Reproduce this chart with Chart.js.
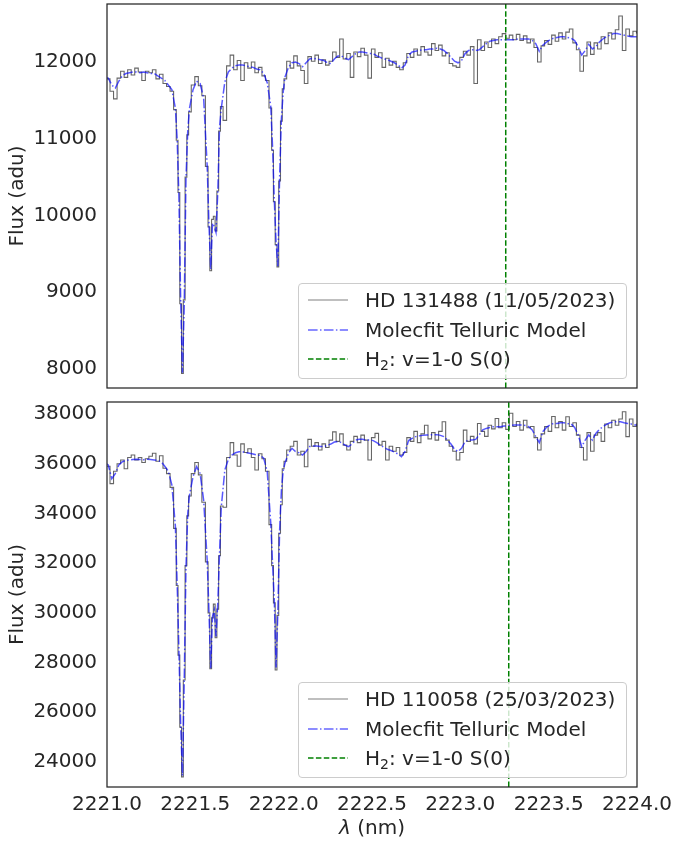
<!DOCTYPE html>
<html>
<head>
<meta charset="utf-8">
<script src="https://cdn.jsdelivr.net/npm/chart.js@4.4.1/dist/chart.umd.min.js"></script>
<style>
    body { margin: 0; background: #fff; }
    #wrap { position: relative; width: 675px; height: 844px; font-family: 'DejaVu Sans', sans-serif; color: #262626; }
    .panel { position: absolute; left: 0; width: 675px; }
    .legend { position: absolute; left: 298px; width: 329px; height: 96px; box-sizing: border-box;
              border: 1px solid #cccccc; border-radius: 4px; background: rgba(255,255,255,0.8); font-size: 20px; }
    .legend .row { position: absolute; left: 0; height: 30px; display: flex; align-items: center; white-space: nowrap; }
    .legend svg { margin-left: 9px; margin-right: 17px; }
    .legend .sub { font-size: 14px; position: relative; top: 6px; }
</style>
</head>
<body>
<div id="wrap">
    <div class="panel" style="top:0; height:395px;"><canvas id="topChart"></canvas></div>
    <div class="panel" style="top:395px; height:449px;"><canvas id="bottomChart"></canvas></div>

    <div class="legend" style="top:283px;">
        <div class="row" style="top:1px;"><svg width="40" height="4"><line x1="0" y1="2" x2="40" y2="2" stroke="rgba(0,0,0,0.5)" stroke-width="1.2"/></svg>HD 131488 (11/05/2023)</div>
        <div class="row" style="top:31px;"><svg width="40" height="4"><line x1="0" y1="2" x2="40" y2="2" stroke="rgba(0,0,255,0.6)" stroke-width="1.5" stroke-dasharray="9.6 2.4 1.5 2.4"/></svg>Molecfit Telluric Model</div>
        <div class="row" style="top:60px;"><svg width="40" height="4"><line x1="0" y1="2" x2="40" y2="2" stroke="#008000" stroke-width="1.5" stroke-dasharray="5.5 2.4"/></svg>H<span class="sub">2</span>: v=1-0 S(0)</div>
    </div>
    <div class="legend" style="top:682px;">
        <div class="row" style="top:1px;"><svg width="40" height="4"><line x1="0" y1="2" x2="40" y2="2" stroke="rgba(0,0,0,0.5)" stroke-width="1.2"/></svg>HD 110058 (25/03/2023)</div>
        <div class="row" style="top:31px;"><svg width="40" height="4"><line x1="0" y1="2" x2="40" y2="2" stroke="rgba(0,0,255,0.6)" stroke-width="1.5" stroke-dasharray="9.6 2.4 1.5 2.4"/></svg>Molecfit Telluric Model</div>
        <div class="row" style="top:60px;"><svg width="40" height="4"><line x1="0" y1="2" x2="40" y2="2" stroke="#008000" stroke-width="1.5" stroke-dasharray="5.5 2.4"/></svg>H<span class="sub">2</span>: v=1-0 S(0)</div>
    </div>
</div>

<script>
// wavelength grid (nm), shared by both spectra; finer inside the three telluric lines
const WAVE = [
    2220.987, 2221.007, 2221.027, 2221.047, 2221.067, 2221.087, 2221.107, 2221.127, 2221.147, 2221.167,
    2221.187, 2221.207, 2221.227, 2221.247, 2221.267, 2221.287, 2221.307, 2221.327, 2221.347, 2221.367,
    2221.387, 2221.397, 2221.407, 2221.417, 2221.427, 2221.437, 2221.447, 2221.457, 2221.467, 2221.487, 2221.507, 2221.527, 2221.547, 2221.567, 2221.577,
    2221.587, 2221.597, 2221.607, 2221.617, 2221.627, 2221.637, 2221.647, 2221.667, 2221.687, 2221.707, 2221.727, 2221.747, 2221.767,
    2221.787, 2221.807, 2221.827, 2221.847, 2221.867, 2221.887, 2221.907, 2221.927, 2221.937, 2221.947, 2221.957, 2221.967, 2221.977,
    2221.987, 2221.997, 2222.007, 2222.027, 2222.047, 2222.067, 2222.087, 2222.107, 2222.127, 2222.147, 2222.167,
    2222.187, 2222.207, 2222.227, 2222.247, 2222.267, 2222.287, 2222.307, 2222.327, 2222.347, 2222.367,
    2222.387, 2222.407, 2222.427, 2222.447, 2222.467, 2222.487, 2222.507, 2222.527, 2222.547, 2222.567,
    2222.587, 2222.607, 2222.627, 2222.647, 2222.667, 2222.687, 2222.707, 2222.727, 2222.747, 2222.767,
    2222.787, 2222.807, 2222.827, 2222.847, 2222.867, 2222.887, 2222.907, 2222.927, 2222.947, 2222.967,
    2222.987, 2223.007, 2223.027, 2223.047, 2223.067, 2223.087, 2223.107, 2223.127, 2223.147, 2223.167,
    2223.187, 2223.207, 2223.227, 2223.247, 2223.267, 2223.287, 2223.307, 2223.327, 2223.347, 2223.367,
    2223.387, 2223.407, 2223.427, 2223.447, 2223.467, 2223.487, 2223.507, 2223.527, 2223.547, 2223.567,
    2223.587, 2223.607, 2223.627, 2223.647, 2223.667, 2223.687, 2223.707, 2223.727, 2223.747, 2223.767,
    2223.787, 2223.807, 2223.827, 2223.847, 2223.867, 2223.887, 2223.907, 2223.927, 2223.947, 2223.967,
    2223.987, 2224.007
];

// HD 131488 (top panel)
const TOP_FLUX = [
    11820, 11780, 11620, 11520, 11790, 11880, 11800, 11900, 11830, 11920,
    11870, 11760, 11880, 11860, 11900, 11780, 11840, 11720, 11680, 11620,
    11380, 10980, 10300, 8850, 7940, 8900, 10500, 11050, 11350, 11700, 11810, 11690, 11560, 10640, 9850,
    9280, 9950, 9990, 9800, 10320, 11100, 11420, 11240, 11950, 12090, 11900, 12020, 11760,
    11990, 11920, 12000, 11860, 11930, 11820, 11760, 11400, 10850, 10180, 9620, 9330, 10450,
    11230, 11650, 11780, 12010, 11920, 12080, 11950, 11890, 11720, 12070, 12010,
    12090, 11980, 12030, 11960, 12010, 12130, 12060, 12300, 12040, 12110,
    11800, 12130, 12070, 12180, 12090, 11790, 12170, 12060, 12120, 11930,
    12050, 11960, 12010, 11930, 11900, 11990, 12110, 12060, 12170, 12090,
    12200, 12130, 12090, 12240, 12150, 12220, 12080, 12120, 11980, 11950,
    11930, 12060, 12140, 12090, 12200, 11720, 12290, 12150, 12260, 12190,
    12300, 12240, 12330, 12370, 12310, 12350, 12290, 12360, 12280, 12340,
    12250, 12300, 12190, 12000, 12210, 12280, 12230, 12350, 12270, 12380,
    12300, 12390, 12430, 12250, 12160, 11880, 12080, 12260, 12100, 12250,
    12170, 12330, 12240, 12380, 12300, 12420, 12600, 12150, 12430, 12340,
    12400, 12380
];
const TOP_MODEL = [
    11800, 11790, 11700, 11660, 11750, 11820, 11850, 11860, 11870, 11870,
    11860, 11870, 11860, 11850, 11850, 11820, 11790, 11760, 11700, 11640,
    11400, 11000, 10250, 8900, 7950, 8800, 10480, 11100, 11400, 11640, 11750, 11720, 11530, 10650, 9900,
    9300, 9900, 9860, 9780, 10300, 11150, 11400, 11740, 11870, 11920, 11950, 11960, 11960,
    11950, 11940, 11930, 11910, 11900, 11850, 11730, 11420, 10900, 10200, 9650, 9340, 10500,
    11250, 11600, 11800, 11930, 11990, 12000, 11980, 11940, 11990, 12040, 12050,
    12040, 12030, 12020, 11990, 11980, 12040, 12080, 12080, 12050, 12030,
    12070, 12110, 12130, 12130, 12120, 12110, 12110, 12080, 12060, 12040,
    12030, 12010, 11990, 11960, 11920, 11960, 12090, 12130, 12140, 12150,
    12160, 12160, 12170, 12170, 12180, 12170, 12150, 12110, 12060, 12010,
    11990, 12020, 12110, 12150, 12160, 12150, 12160, 12200, 12240, 12270,
    12280, 12290, 12290, 12290, 12290, 12290, 12290, 12300, 12300, 12300,
    12300, 12280, 12240, 12140, 12220, 12260, 12290, 12310, 12320, 12330,
    12330, 12320, 12310, 12280, 12200, 12090, 12150, 12230, 12170, 12200,
    12260, 12300, 12330, 12350, 12370, 12370, 12360, 12350, 12340, 12330,
    12330, 12330
];

// HD 110058 (bottom panel)
const BOT_FLUX = [
    36100, 35900, 35200, 35700, 36000, 36150, 35800, 36250, 36350, 36150,
    36250, 36050, 36200, 36300, 36420, 36100, 36320, 35820, 35600, 35050,
    33400, 31100, 28300, 25400, 23400, 27300, 31900, 33900, 34700, 35600, 36050, 35550, 34450, 32050, 30000,
    27750, 29800, 30350, 29000, 30150, 32300, 34300, 34250, 36250, 36850, 36350, 35900, 36800,
    36450, 36600, 36250, 35750, 36400, 36200, 35700, 33550, 31900, 30400, 27700, 29900, 33200,
    34350, 35800, 36100, 36550, 36700, 36900, 36350, 36500, 35880, 36980, 36700,
    36850, 36550, 36800, 36650, 36950, 37280, 36900, 37200, 36750, 36550,
    36900, 37100, 36850, 37150, 36950, 36150, 37050, 37220, 36750, 36900,
    36150, 36700, 36500, 36650, 36350, 36450, 37050, 36900, 37300, 36850,
    37200, 37550, 37000, 37250, 36950, 37300, 37690, 36950, 36700, 36500,
    36150, 36450, 37350, 36900, 37100, 36800, 37620, 37300, 37100, 37550,
    37400, 37820, 37450, 37650, 37380, 38030, 37500, 37700, 37350, 37750,
    37450, 37500, 37050, 36550, 37200, 37500, 37300, 37900, 37450, 37700,
    37350, 37890, 37500, 37650, 37150, 36650, 36150, 37250, 36500, 37150,
    37250, 36900, 37600, 37450, 37750, 37550, 37800, 38090, 37090, 37800,
    37500, 37600
];
const BOT_MODEL = [
    36050, 35950, 35400, 35600, 35950, 36080, 36130, 36150, 36170, 36180,
    36170, 36160, 36180, 36170, 36150, 36130, 36080, 35900, 35700, 35150,
    33500, 31200, 28500, 25500, 23450, 27200, 31800, 34000, 34740, 35480, 35880, 35610, 34540, 32130, 30100,
    27770, 29850, 30120, 29050, 30380, 32400, 34270, 35750, 36180, 36350, 36440, 36480, 36480,
    36440, 36420, 36390, 36350, 36340, 36220, 35680, 33600, 32000, 30500, 27800, 30000, 33300,
    34900, 35700, 36020, 36420, 36620, 36490, 36440, 36350, 36490, 36690, 36710,
    36710, 36690, 36690, 36740, 36790, 36870, 36890, 36850, 36750, 36690,
    36790, 36950, 36980, 36980, 36950, 36950, 36930, 36850, 36750, 36660,
    36580, 36530, 36470, 36390, 36280, 36490, 36930, 37020, 37090, 37120,
    37140, 37160, 37160, 37170, 37170, 37140, 37090, 36950, 36790, 36580,
    36490, 36620, 36890, 36950, 36950, 36980, 37160, 37360, 37420, 37460,
    37490, 37490, 37490, 37520, 37520, 37540, 37560, 37560, 37560, 37540,
    37490, 37360, 37090, 36850, 37290, 37460, 37560, 37620, 37620, 37650,
    37650, 37620, 37600, 37460, 37160, 36690, 36950, 37160, 36950, 37220,
    37380, 37490, 37580, 37650, 37680, 37690, 37690, 37650, 37620, 37600,
    37560, 37550
];

// H2 v=1-0 S(0) line position in each panel (nm)
const TOP_H2 = 2223.257;
const BOT_H2 = 2223.274;

// axis ranges and ticks
const X_RANGE = [2221.0, 2224.0];
const X_TICKS = [2221.0, 2221.5, 2222.0, 2222.5, 2223.0, 2223.5, 2224.0];
const TOP_YRANGE = [7752, 12756];
const TOP_YTICKS = [8000, 9000, 10000, 11000, 12000];
const BOT_YRANGE = [22994, 38483];
const BOT_YTICKS = [24000, 26000, 28000, 30000, 32000, 34000, 36000, 38000];

Chart.defaults.font.family = "'DejaVu Sans', sans-serif";
Chart.defaults.font.size = 20;
Chart.defaults.color = '#262626';

// box round the plot area, like matplotlib
const framePlugin = {
    id: 'frame',
    afterDraw(chart) {
        const {ctx, chartArea: a} = chart;
        ctx.save();
        ctx.strokeStyle = '#262626';
        ctx.lineWidth = 1.25;
        ctx.strokeRect(a.left, a.top, a.right - a.left, a.bottom - a.top);
        ctx.restore();
    }
};

// x label with italic lambda
const xTitlePlugin = {
    id: 'xTitle',
    afterDraw(chart) {
        const ctx = chart.ctx;
        const a = chart.chartArea;
        const y = 434;
        ctx.save();
        ctx.fillStyle = '#262626';
        ctx.textBaseline = 'middle';
        ctx.font = "italic 20px 'DejaVu Sans'";
        const w1 = ctx.measureText('λ').width;
        ctx.font = "20px 'DejaVu Sans'";
        const w2 = ctx.measureText(' (nm)').width;
        let x = (a.left + a.right) / 2 - (w1 + w2) / 2;
        ctx.font = "italic 20px 'DejaVu Sans'";
        ctx.fillText('λ', x, y);
        ctx.font = "20px 'DejaVu Sans'";
        ctx.fillText(' (nm)', x + w1, y);
        ctx.restore();
    }
};

function makePanel(canvasId, flux, model, h2, yRange, yTicks, showX) {
    let ctx = document.getElementById(canvasId).getContext('2d');
    let plugins = [framePlugin];
    if (showX) plugins.push(xTitlePlugin);

    return new Chart(ctx, {
        type: 'line',
        data: {
            datasets: [
                {
                    label: 'H2',
                    data: [{x: h2, y: yRange[0]}, {x: h2, y: yRange[1]}],
                    borderColor: '#008000',
                    borderWidth: 1.5,
                    borderDash: [5.5, 2.4],
                    pointRadius: 0,
                    order: 0
                },
                {
                    label: 'Molecfit Telluric Model',
                    data: WAVE.map((w, i) => ({x: w, y: model[i]})),
                    borderColor: 'rgba(0,0,255,0.65)',
                    borderWidth: 1.5,
                    borderDash: [9.6, 2.4, 1.5, 2.4],
                    pointRadius: 0,
                    tension: 0,
                    order: 1
                },
                {
                    label: 'spectrum',
                    data: WAVE.map((w, i) => ({x: w, y: flux[i]})),
                    borderColor: 'rgba(0,0,0,0.6)',
                    borderWidth: 1.1,
                    stepped: 'middle',
                    pointRadius: 0,
                    order: 2
                }
            ]
        },
        options: {
            responsive: true,
            maintainAspectRatio: false,
            animation: false,
            layout: {
                padding: showX ? {top: 7, right: 38, bottom: 0, left: 0} : {top: 4, right: 38, bottom: 7, left: 0}
            },
            plugins: {
                legend: { display: false },
                tooltip: { enabled: false }
            },
            scales: {
                x: {
                    type: 'linear',
                    display: showX,
                    min: X_RANGE[0],
                    max: X_RANGE[1],
                    grid: { display: false, drawTicks: false },
                    border: { display: false },
                    afterBuildTicks: (scale) => { scale.ticks = X_TICKS.map(v => ({value: v})); },
                    afterFit: (scale) => {
                        if (showX) scale.height = 57;
                        scale.paddingLeft = 0;
                        scale.paddingRight = 0;
                    },
                    ticks: {
                        padding: 6,
                        maxRotation: 0,
                        autoSkip: false,
                        callback: (v) => Number(v).toFixed(1)
                    }
                },
                y: {
                    min: yRange[0],
                    max: yRange[1],
                    grid: { display: false, drawTicks: false },
                    border: { display: false },
                    afterBuildTicks: (scale) => { scale.ticks = yTicks.map(v => ({value: v})); },
                    afterFit: (scale) => {
                        scale.width = 107;
                        scale.paddingTop = 0;
                        scale.paddingBottom = 0;
                    },
                    ticks: {
                        padding: 10,
                        callback: (v) => String(v)
                    },
                    title: {
                        display: true,
                        text: 'Flux (adu)',
                        padding: {top: 6, bottom: 0}
                    }
                }
            }
        },
        plugins: plugins
    });
}

makePanel('topChart', TOP_FLUX, TOP_MODEL, TOP_H2, TOP_YRANGE, TOP_YTICKS, false);
makePanel('bottomChart', BOT_FLUX, BOT_MODEL, BOT_H2, BOT_YRANGE, BOT_YTICKS, true);
</script>
</body>
</html>
